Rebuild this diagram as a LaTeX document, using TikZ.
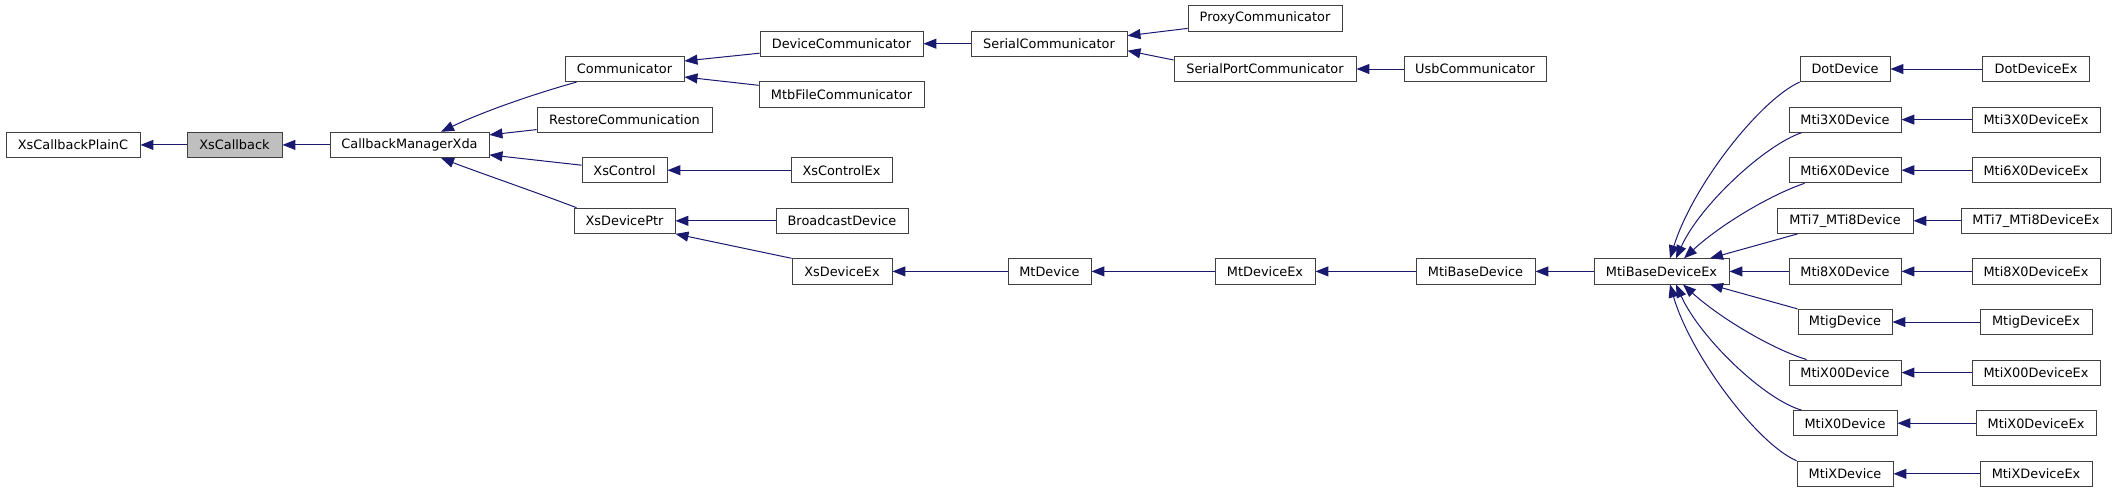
\documentclass[tikz,border=0pt]{standalone}
\usepackage{fontspec}
\newfontfamily\dejavu{DejaVu Sans}
\usetikzlibrary{arrows.meta}
\definecolor{midnight}{HTML}{191970}
\tikzset{
  cls/.style={draw=black!75, line width=0.9pt, fill=white, inner sep=0pt,
    minimum height=25.3pt, font={\dejavu\fontsize{12.9pt}{15pt}\selectfont}},
  cur/.style={cls, fill=black!25},
  inh/.style={draw=midnight, line width=1pt,
    -{Triangle[length=13pt,width=10pt]}}
}
\begin{document}
\begin{tikzpicture}[x=1pt, y=-1pt]
\useasboundingbox (0,0) rectangle (2116,493);

% base classes
\node[cls, minimum width=134pt] (XsCallbackPlainC) at (73,144.9) {XsCallbackPlainC};
\node[cur, minimum width=95pt] (XsCallback) at (234.5,144.9) {XsCallback};
\node[cls, minimum width=159pt] (CallbackManagerXda) at (409.5,144.9) {CallbackManagerXda};

% first level
\node[cls, minimum width=119pt] (Communicator) at (624.5,69.0) {Communicator};
\node[cls, minimum width=175pt] (RestoreCommunication) at (624.5,119.6) {RestoreCommunication};
\node[cls, minimum width=85pt] (XsControl) at (624.5,170.2) {XsControl};
\node[cls, minimum width=101pt] (XsDevicePtr) at (624.5,220.8) {XsDevicePtr};

\node[cls, minimum width=163pt] (DeviceCommunicator) at (841.5,43.7) {DeviceCommunicator};
\node[cls, minimum width=165pt] (MtbFileCommunicator) at (841.5,94.3) {MtbFileCommunicator};
\node[cls, minimum width=101pt] (XsControlEx) at (841.5,170.2) {XsControlEx};
\node[cls, minimum width=132pt] (BroadcastDevice) at (842,220.8) {BroadcastDevice};
\node[cls, minimum width=100pt] (XsDeviceEx) at (842,271.4) {XsDeviceEx};

\node[cls, minimum width=156pt] (SerialCommunicator) at (1049,43.7) {SerialCommunicator};
\node[cls, minimum width=83pt] (MtDevice) at (1049.5,271.4) {MtDevice};

\node[cls, minimum width=154pt] (ProxyCommunicator) at (1265,18.4) {ProxyCommunicator};
\node[cls, minimum width=182pt] (SerialPortCommunicator) at (1265,69.0) {SerialPortCommunicator};
\node[cls, minimum width=100pt] (MtDeviceEx) at (1265,271.4) {MtDeviceEx};

\node[cls, minimum width=142pt] (UsbCommunicator) at (1475,69.0) {UsbCommunicator};
\node[cls, minimum width=119pt] (MtiBaseDevice) at (1475.5,271.4) {MtiBaseDevice};
\node[cls, minimum width=135pt] (MtiBaseDeviceEx) at (1661.5,271.4) {MtiBaseDeviceEx};

% devices
\node[cls, minimum width=90pt] (DotDevice) at (1845,69.0) {DotDevice};
\node[cls, minimum width=112pt] (Mti3X0Device) at (1845,119.6) {Mti3X0Device};
\node[cls, minimum width=112pt] (Mti6X0Device) at (1845,170.2) {Mti6X0Device};
\node[cls, minimum width=136pt] (MTi7MTi8Device) at (1845,220.8) {MTi7\_MTi8Device};
\node[cls, minimum width=112pt] (Mti8X0Device) at (1845,271.4) {Mti8X0Device};
\node[cls, minimum width=94pt] (MtigDevice) at (1845,322.0) {MtigDevice};
\node[cls, minimum width=112pt] (MtiX00Device) at (1845,372.6) {MtiX00Device};
\node[cls, minimum width=104pt] (MtiX0Device) at (1845,423.2) {MtiX0Device};
\node[cls, minimum width=96pt] (MtiXDevice) at (1845,473.8) {MtiXDevice};

\node[cls, minimum width=107pt] (DotDeviceEx) at (2036,69.0) {DotDeviceEx};
\node[cls, minimum width=128pt] (Mti3X0DeviceEx) at (2036,119.6) {Mti3X0DeviceEx};
\node[cls, minimum width=128pt] (Mti6X0DeviceEx) at (2036,170.2) {Mti6X0DeviceEx};
\node[cls, minimum width=150pt] (MTi7MTi8DeviceEx) at (2036,220.8) {MTi7\_MTi8DeviceEx};
\node[cls, minimum width=128pt] (Mti8X0DeviceEx) at (2036,271.4) {Mti8X0DeviceEx};
\node[cls, minimum width=112pt] (MtigDeviceEx) at (2036,322.0) {MtigDeviceEx};
\node[cls, minimum width=128pt] (MtiX00DeviceEx) at (2036,372.6) {MtiX00DeviceEx};
\node[cls, minimum width=120pt] (MtiX0DeviceEx) at (2036,423.2) {MtiX0DeviceEx};
\node[cls, minimum width=112pt] (MtiXDeviceEx) at (2036,473.8) {MtiXDeviceEx};

% inheritance, left part
\draw[inh] (XsCallback.west) -- (XsCallbackPlainC.east);
\draw[inh] (CallbackManagerXda.west) -- (XsCallback.east);
\draw[inh] ([xshift=12pt]Communicator.south west) .. controls (530,95) and (480,113) .. ([xshift=31.5pt]CallbackManagerXda.north);
\draw[inh] ([yshift=-10pt]RestoreCommunication.west) -- ([yshift=10pt]CallbackManagerXda.east);
\draw[inh] ([yshift=5pt]XsControl.west) -- ([yshift=-10pt]CallbackManagerXda.east);
\draw[inh] ([xshift=3pt]XsDevicePtr.north west) .. controls (530,190) and (480,173) .. ([xshift=31.5pt]CallbackManagerXda.south);

\draw[inh] ([yshift=-9.5pt]DeviceCommunicator.west) -- ([yshift=8pt]Communicator.east);
\draw[inh] ([yshift=9pt]MtbFileCommunicator.west) -- ([yshift=-8pt]Communicator.east);
\draw[inh] (XsControlEx.west) -- (XsControl.east);
\draw[inh] (BroadcastDevice.west) -- (XsDevicePtr.east);
\draw[inh] (XsDeviceEx.north west) -- (XsDevicePtr.south east);

\draw[inh] (SerialCommunicator.west) -- (DeviceCommunicator.east);
\draw[inh] ([yshift=-10pt]ProxyCommunicator.west) -- ([yshift=8pt]SerialCommunicator.east);
\draw[inh] ([yshift=9pt]SerialPortCommunicator.west) -- ([yshift=-7pt]SerialCommunicator.east);
\draw[inh] (UsbCommunicator.west) -- (SerialPortCommunicator.east);

\draw[inh] (MtDevice.west) -- (XsDeviceEx.east);
\draw[inh] (MtDeviceEx.west) -- (MtDevice.east);
\draw[inh] (MtiBaseDevice.west) -- (MtDeviceEx.east);
\draw[inh] (MtiBaseDeviceEx.west) -- (MtiBaseDevice.east);

% inheritance, devices
\draw[inh] (DotDevice.south west) .. controls (1760,100) and (1693,185) .. ([xshift=8.5pt]MtiBaseDeviceEx.north);
\draw[inh] ([xshift=13pt]Mti3X0Device.south west) .. controls (1765,145) and (1700,205) .. ([xshift=14.5pt]MtiBaseDeviceEx.north);
\draw[inh] ([xshift=16pt]Mti6X0Device.south west) .. controls (1770,195) and (1720,225) .. ([xshift=22.5pt]MtiBaseDeviceEx.north);
\draw[inh] ([xshift=21pt]MTi7MTi8Device.south west) -- ([xshift=48.5pt]MtiBaseDeviceEx.north);
\draw[inh] (Mti8X0Device.west) -- (MtiBaseDeviceEx.east);
\draw[inh] (MtigDevice.north west) -- ([xshift=48.5pt]MtiBaseDeviceEx.south);
\draw[inh] ([xshift=18pt]MtiX00Device.north west) .. controls (1772,349) and (1720,318) .. ([xshift=21.5pt]MtiBaseDeviceEx.south);
\draw[inh] ([xshift=9pt]MtiX0Device.north west) .. controls (1765,400) and (1700,338) .. ([xshift=14.5pt]MtiBaseDeviceEx.south);
\draw[inh] (MtiXDevice.north west) .. controls (1757,444) and (1690,354) .. ([xshift=8.5pt]MtiBaseDeviceEx.south);

\draw[inh] (DotDeviceEx.west) -- (DotDevice.east);
\draw[inh] (Mti3X0DeviceEx.west) -- (Mti3X0Device.east);
\draw[inh] (Mti6X0DeviceEx.west) -- (Mti6X0Device.east);
\draw[inh] (MTi7MTi8DeviceEx.west) -- (MTi7MTi8Device.east);
\draw[inh] (Mti8X0DeviceEx.west) -- (Mti8X0Device.east);
\draw[inh] (MtigDeviceEx.west) -- (MtigDevice.east);
\draw[inh] (MtiX00DeviceEx.west) -- (MtiX00Device.east);
\draw[inh] (MtiX0DeviceEx.west) -- (MtiX0Device.east);
\draw[inh] (MtiXDeviceEx.west) -- (MtiXDevice.east);

\end{tikzpicture}
\end{document}
